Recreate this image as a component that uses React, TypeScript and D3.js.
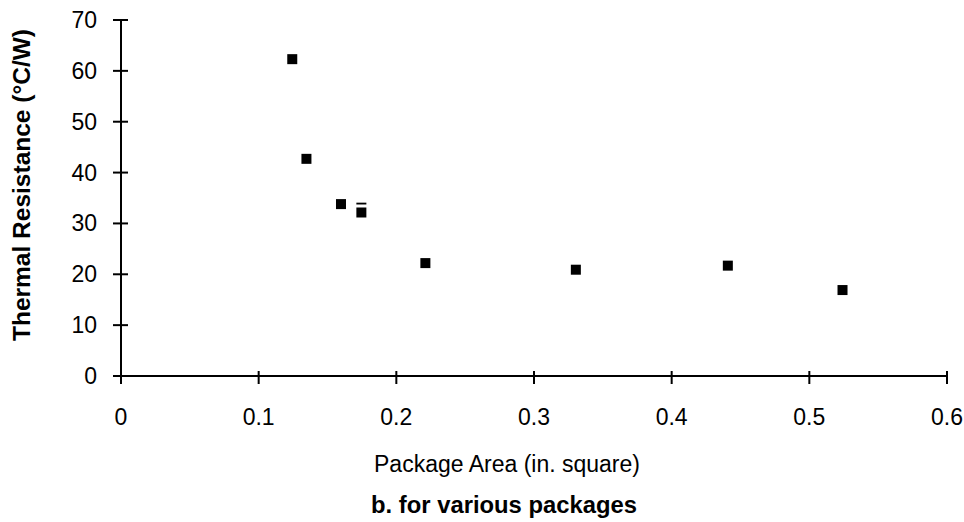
import React from "react";
import * as d3 from "d3";

const areas = [0.1244, 0.1347, 0.1598, 0.1746, 0.1746, 0.2211, 0.3304, 0.4408, 0.5241];
const resistances = [62.3, 42.7, 33.8, 33.1, 32.15, 22.2, 20.9, 21.7, 16.9];
const xTicks = [0, 0.1, 0.2, 0.3, 0.4, 0.5, 0.6];
const yTicks = [0, 10, 20, 30, 40, 50, 60, 70];
const xTitle = "Package Area (in. square)";
const yTitle = "Thermal Resistance (°C/W)";
const caption = "b. for various packages";

export default function App() {
  const W = 964, H = 522;
  const x = d3.scaleLinear().domain([0, 0.6]).range([121, 947]);
  const y = d3.scaleLinear().domain([0, 70]).range([376, 20]);
  const font = "'Liberation Sans', Arial, sans-serif";
  const fs = 23;
  const ms = 10;
  return (
    <svg width={W} height={H} style={{ position: "absolute", left: 0, top: 0, background: "#fff" }} fontFamily={font}>
      <rect x={0} y={0} width={W} height={H} fill="#fff" />
      {/* axes */}
      <line x1={x(0)} x2={x(0.6)} y1={y(0)} y2={y(0)} stroke="#000" strokeWidth={2} />
      <line x1={x(0)} x2={x(0)} y1={y(0)} y2={y(70)} stroke="#000" strokeWidth={2} />
      {xTicks.map((t) => (
        <g key={"x" + t}>
          <line x1={x(t)} x2={x(t)} y1={y(0) - 5} y2={y(0) + 8} stroke="#000" strokeWidth={2} />
          <text x={x(t)} y={425} textAnchor="middle" fontSize={fs} fill="#000">{d3.format("")(t)}</text>
        </g>
      ))}
      {yTicks.map((t) => (
        <g key={"y" + t}>
          <line x1={x(0) - 8} x2={x(0) + 7} y1={y(t)} y2={y(t)} stroke="#000" strokeWidth={2} />
          <text x={97} y={y(t)} dy="0.35em" textAnchor="end" fontSize={fs} fill="#000">{t}</text>
        </g>
      ))}
      {/* markers */}
      {areas.map((a, i) => (
        <rect key={i} x={x(a) - ms / 2} y={y(resistances[i]) - ms / 2} width={ms} height={ms}
          fill="#000" stroke="#fff" strokeWidth={i === 4 ? 6 : 0} paintOrder="stroke" />
      ))}
      {/* titles */}
      <text x={507} y={472} textAnchor="middle" fontSize={fs} fill="#000">{xTitle}</text>
      <text x={504} y={513} textAnchor="middle" fontSize={23.8} fontWeight="bold" fill="#000">{caption}</text>
      <text transform={`translate(30,185) rotate(-90)`} textAnchor="middle" fontSize={24.5} fontWeight="bold" fill="#000">{yTitle}</text>
    </svg>
  );
}
